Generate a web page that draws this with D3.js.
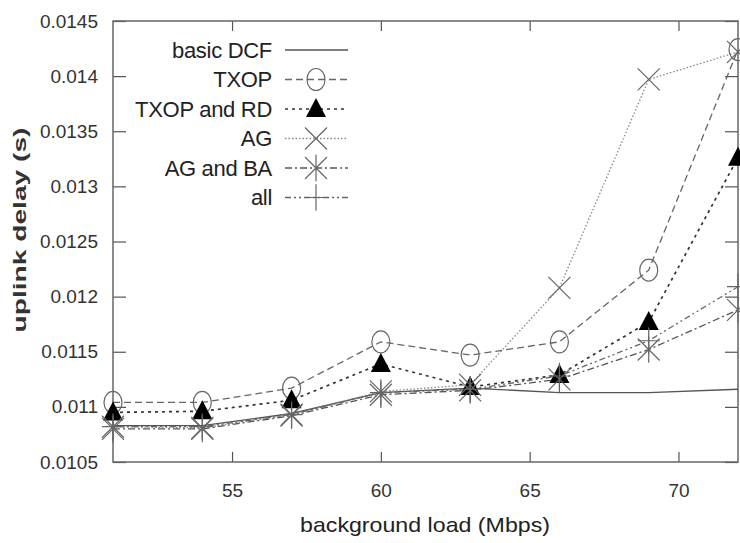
<!DOCTYPE html>
<meta charset="utf-8">
<style>
body { margin: 0; background: #fff; }
text { font-family: "Liberation Sans", Arial, sans-serif; fill: #222; }
.tick text { font-size: 19px; fill: #333; }
</style>
<body>
<script src="https://d3js.org/d3.v7.min.js"></script>
<script>

// data
var loads = [51, 54, 57, 60, 63, 66, 69, 72];
var basicDCF = [0.01083, 0.01083, 0.01094, 0.01113, 0.01117, 0.01113, 0.01113, 0.01116];
var txop     = [0.01104, 0.01104, 0.01117, 0.01159, 0.01147, 0.01159, 0.01224, 0.01424];
var txopRD   = [0.01095, 0.01096, 0.01106, 0.01139, 0.01118, 0.01129, 0.01177, 0.01326];
var ag       = [0.01082, 0.01081, 0.01093, 0.01114, 0.01120, 0.01208, 0.01397, 0.01422];
var agBA     = [0.01080, 0.01080, 0.01092, 0.01111, 0.01115, 0.01125, 0.01152, 0.01188];
var all      = [0.01082, 0.01082, 0.01093, 0.01113, 0.01116, 0.01128, 0.01160, 0.01209];
var xTicks = [55, 60, 65, 70];
var yTicks = [0.0105, 0.011, 0.0115, 0.012, 0.0125, 0.013, 0.0135, 0.014, 0.0145];

var series = [
  {name: "basic DCF",    values: basicDCF, dash: null,          color: "#555", width: 1.3, mark: "none"},
  {name: "TXOP",         values: txop,     dash: "7,4",         color: "#666", width: 1.3, mark: "circle"},
  {name: "TXOP and RD",  values: txopRD,   dash: "3,4",         color: "#333", width: 1.7, mark: "triangle"},
  {name: "AG",           values: ag,       dash: "1.5,2",       color: "#888", width: 1.3, mark: "x"},
  {name: "AG and BA",    values: agBA,     dash: "7,3,2,3",     color: "#555", width: 1.3, mark: "star"},
  {name: "all",          values: all,      dash: "6,3,2,3,2,3", color: "#666", width: 1.3, mark: "plus"}
];

var margin = {top: 21, right: 2, bottom: 81, left: 113},
    width = 740 - margin.left - margin.right,
    height = 543 - margin.top - margin.bottom;

var x = d3.scaleLinear().domain([51, 72]).range([0, width]);
var y = d3.scaleLinear().domain([0.0105, 0.0145]).range([height, 0]);

var svg = d3.select("body").append("svg")
    .attr("width", 740)
    .attr("height", 543)
  .append("g")
    .attr("transform", "translate(" + margin.left + "," + margin.top + ")");

// axes with inward ticks
svg.append("g")
    .attr("transform", "translate(0," + height + ")")
    .call(d3.axisBottom(x).tickValues(xTicks).tickSizeInner(-10).tickSizeOuter(0).tickPadding(22))
    .call(function(g) { g.select(".domain").remove(); });
svg.append("g")
    .call(d3.axisTop(x).tickValues(xTicks).tickSizeInner(-10).tickSizeOuter(0).tickFormat(""))
    .call(function(g) { g.select(".domain").remove(); });
svg.append("g")
    .call(d3.axisLeft(y).tickValues(yTicks).tickSizeInner(-13).tickSizeOuter(0).tickPadding(15)
      .tickFormat(function(d) { return +d.toFixed(4); }))
    .call(function(g) { g.select(".domain").remove(); });
svg.append("g")
    .attr("transform", "translate(" + width + ",0)")
    .call(d3.axisRight(y).tickValues(yTicks).tickSizeInner(-13).tickSizeOuter(0).tickFormat(""))
    .call(function(g) { g.select(".domain").remove(); });

svg.selectAll(".tick line").attr("stroke", "#555").attr("stroke-width", 1.2);

svg.append("rect")
    .attr("width", width).attr("height", height)
    .attr("fill", "none").attr("stroke", "#666").attr("stroke-width", 1.5);

// marker drawing
function drawMark(g, type, cx, cy) {
  if (type === "circle") {
    g.append("ellipse").attr("cx", cx).attr("cy", cy).attr("rx", 9).attr("ry", 11)
      .attr("fill", "none").attr("stroke", "#666").attr("stroke-width", 1.2);
  } else if (type === "triangle") {
    g.append("path").attr("d", "M" + cx + "," + (cy - 11) + "L" + (cx + 10) + "," + (cy + 8) + "L" + (cx - 10) + "," + (cy + 8) + "Z")
      .attr("fill", "#000");
  } else if (type === "x" || type === "star" || type === "plus") {
    var s = 11, p = "";
    if (type !== "plus") p += "M" + (cx - s) + "," + (cy - s) + "L" + (cx + s) + "," + (cy + s) +
                              "M" + (cx - s) + "," + (cy + s) + "L" + (cx + s) + "," + (cy - s);
    if (type !== "x") p += "M" + cx + "," + (cy - s * 1.2) + "L" + cx + "," + (cy + s * 1.2);
    if (type === "plus") p += "M" + (cx - s) + "," + cy + "L" + (cx + s) + "," + cy;
    g.append("path").attr("d", p).attr("fill", "none").attr("stroke", "#666").attr("stroke-width", 1.2);
  }
}

var line = d3.line()
    .x(function(d, i) { return x(loads[i]); })
    .y(function(d) { return y(d); });

var plot = svg.append("g");
series.forEach(function(s) {
  plot.append("path")
      .datum(s.values)
      .attr("d", line)
      .attr("fill", "none")
      .attr("stroke", s.color)
      .attr("stroke-width", s.width)
      .attr("stroke-dasharray", s.dash);
});
series.forEach(function(s) {
  var g = plot.append("g");
  s.values.forEach(function(v, i) { drawMark(g, s.mark, x(loads[i]), y(v)); });
});

// legend
var legend = svg.append("g").attr("transform", "translate(159,29)");
series.forEach(function(s, i) {
  var ly = i * 29.5;
  legend.append("text")
      .attr("x", 0).attr("y", ly).attr("dy", "0.36em")
      .attr("text-anchor", "end")
      .style("font-size", "22px")
      .style("letter-spacing", "-0.3px")
      .text(s.name);
  legend.append("line")
      .attr("x1", 13).attr("x2", 76).attr("y1", ly).attr("y2", ly)
      .attr("stroke", s.color).attr("stroke-width", s.width)
      .attr("stroke-dasharray", s.dash);
  drawMark(legend, s.mark, 44, ly);
});

// axis titles
svg.append("text")
    .attr("x", 425 - margin.left).attr("y", height + 70)
    .attr("text-anchor", "middle")
    .style("font-size", "21px")
    .attr("textLength", 250).attr("lengthAdjust", "spacingAndGlyphs")
    .text("background load (Mbps)");
svg.append("text")
    .attr("transform", "rotate(-90)")
    .attr("x", -(230 - margin.top)).attr("y", -87)
    .attr("text-anchor", "middle")
    .style("font-size", "18px").style("font-weight", "bold").style("fill", "#333")
    .attr("textLength", 205).attr("lengthAdjust", "spacingAndGlyphs")
    .text("uplink delay (s)");

</script>
</body>
